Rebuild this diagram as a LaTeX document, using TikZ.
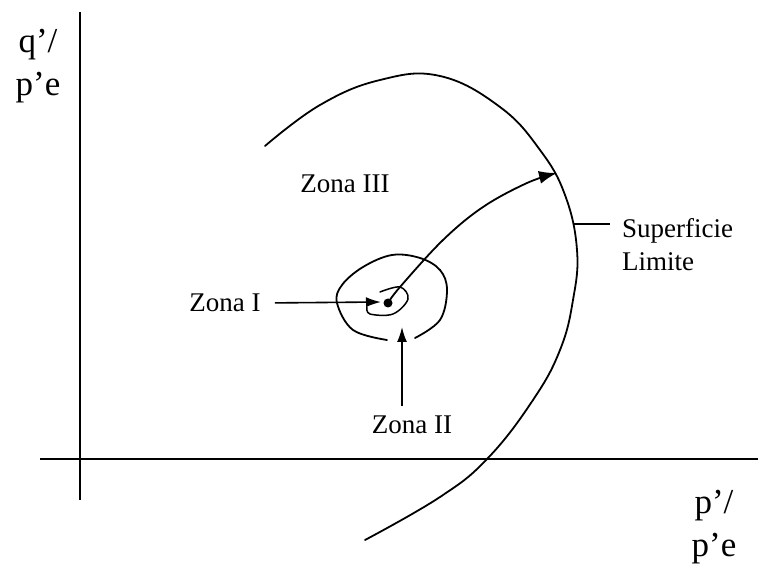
\documentclass[tikz,border=0pt]{standalone}
\usepackage{fontspec}
\setmainfont{Liberation Serif}
\usetikzlibrary{arrows.meta}
\def\lblfont{\fontsize{27}{33}\selectfont}
\def\axfont{\fontsize{35}{43}\selectfont}

\begin{document}
\begin{tikzpicture}[x=1pt, y=-1pt]
\tikzset{curve/.style={line width=1.8pt, line cap=round, line join=round},
    arr/.style={line width=1.6pt, -{Latex[length=15pt, width=10pt]}},
    lbl/.style={font=\lblfont, inner sep=2pt}}
\useasboundingbox (0,0) rectangle (758,569);

% axes
\draw[line width=1.8pt] (80,12) -- (80,500);
\draw[line width=1.8pt] (40,459) -- (758,459);
\node[font=\axfont, align=center] (qaxis) at (38,66) {q’/\\p’e};
\node[font=\axfont, align=center] (paxis) at (714,527) {p’/\\p’e};

% limit surface
\draw[curve] plot[smooth, tension=0.7] coordinates {(265,146) (320,105) (380,80)
    (440,76) (500,107) (540,150) (565,195) (577,250) (573,300) (560,350)
    (533,400) (488,458) (440,497) (365,540)};
\coordinate (slim) at (574,224);
\node[lbl, anchor=west, align=left] (sup) at (620,245) {Superficie\\Limite};
\draw[line width=1.2pt, shorten >=10pt] (slim) -- (sup.west |- slim);

% inner zones
\draw[curve] plot[smooth, tension=0.6] coordinates {(415,338) (440,320) (447,290) (440,270)
    (420,258) (392,255) (363,267) (342,285) (337,303) (353,330) (387,340)};
\draw[curve, line width=1.5pt] plot[smooth, tension=0.6] coordinates {(380,292) (400,287) (408,299)
    (393,314) (370,314) (367,307)};
\coordinate (dot) at (388,303);
\fill (dot) circle (4.5);

% load path
\draw[curve, -{Latex[length=18pt, width=13pt]}] plot[smooth, tension=0.6] coordinates {(dot) (400,287)
    (443,240) (483,207) (527,183) (557,173)};

\node[lbl] (zona3) at (345,184) {Zona III};
\node[lbl] (zona1) at (225,303) {Zona I};
\node[lbl] (zona2) at (412,425) {Zona II};
\coordinate (z1tip) at (381,302);
\coordinate (z2tip) at (402,327);
\draw[arr, shorten <=12pt] (zona1.east) -- (z1tip);
\draw[arr, shorten <=8pt] (zona2.north -| z2tip) -- (z2tip);
\end{tikzpicture}
\end{document}
